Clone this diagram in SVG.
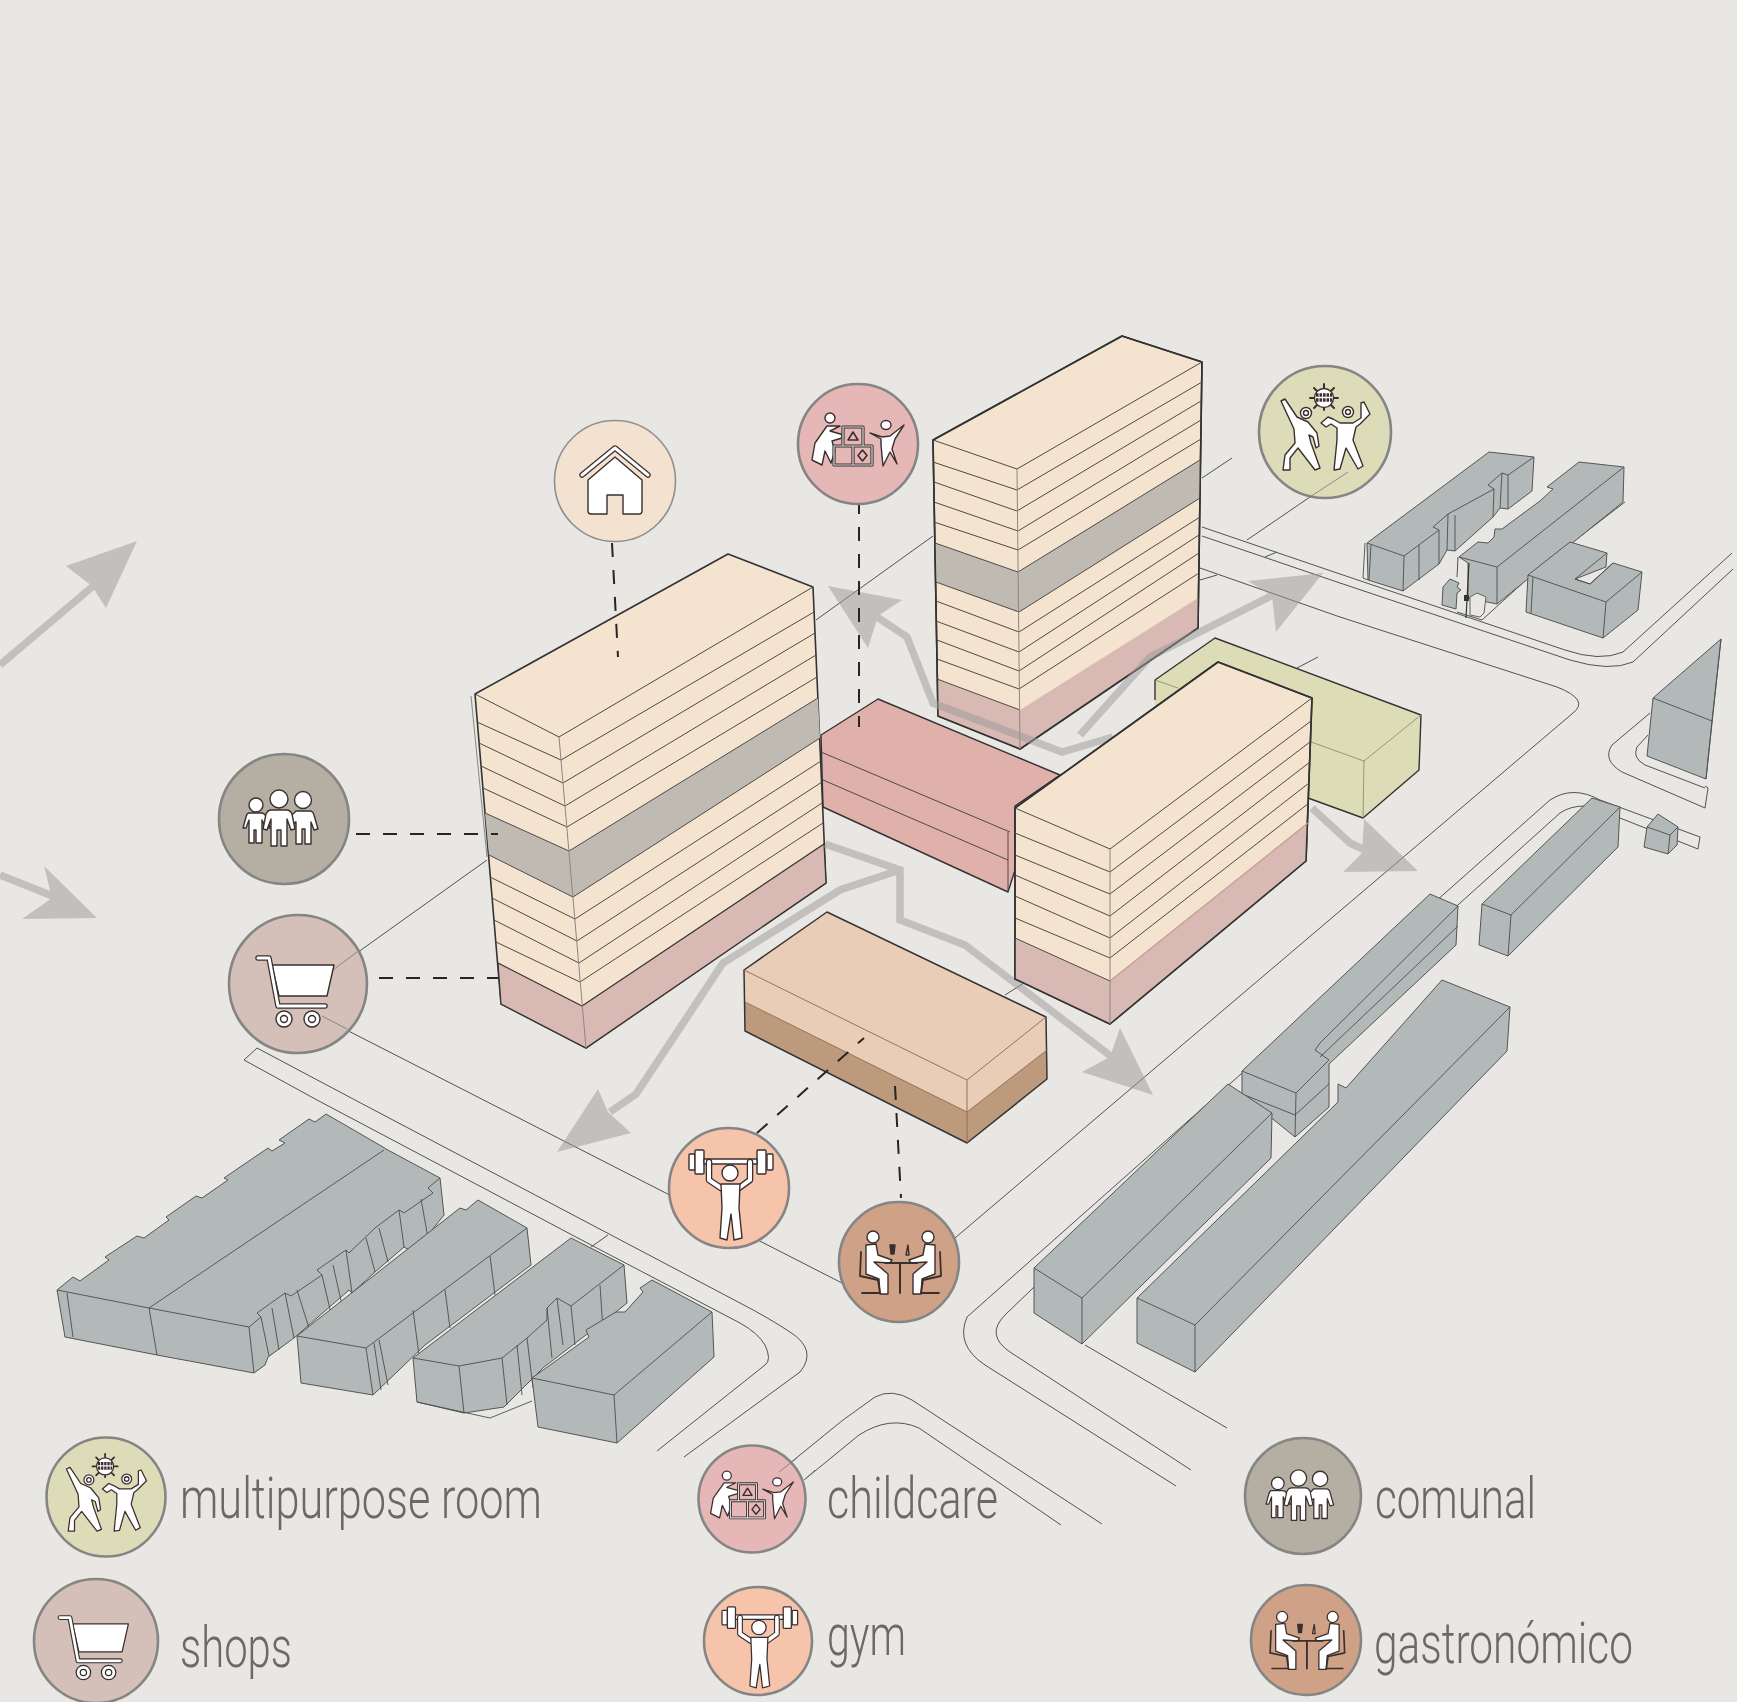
<svg xmlns="http://www.w3.org/2000/svg" xmlns:xlink="http://www.w3.org/1999/xlink" width="1737" height="1702" viewBox="0 0 1737 1702">
<style>
.rd{fill:none;stroke:#525252;stroke-width:1}
.bl{fill:#b2b9b8;stroke:#555;stroke-width:1;stroke-linejoin:round}
.bi{fill:none;stroke:#4a4f4f;stroke-width:.9}
.cr{fill:#f3e3cf;stroke:#333;stroke-width:1.6;stroke-linejoin:round}
.gy{fill:#bfbab2;stroke:none}
.pk{fill:#d9b9b3;stroke:#333;stroke-width:1.2;stroke-linejoin:round}
.fl{fill:none;stroke:#4d4a48;stroke-width:1}
.vt{fill:none;stroke:#8a8784;stroke-width:1}
.dash{fill:none;stroke:#2b2222;stroke-width:2;stroke-dasharray:14 13}
.flow path{fill:none;stroke:#9b9b9b;stroke-width:7.5;stroke-linejoin:miter}
.flow polygon{fill:#9b9b9b}
.ic *{fill:#fff;stroke:#3a2f2f;stroke-width:1.4;stroke-linejoin:round;stroke-linecap:round}
.ic .n{fill:none}
.c1{stroke:#858585;stroke-width:2.6}
.lg{font-family:"Roboto","Liberation Sans",sans-serif;font-weight:300;font-size:57px;fill:#6f6764}
</style>
<defs>
<g id="i-house" class="ic">
<path d="M-33,-6L0,-33L33,-6" style="fill:none;stroke-width:5.5"/>
<path d="M-33,-6L0,-33L33,-6" style="fill:none;stroke:#fff;stroke-width:3"/>
<path d="M0,-24L27,-1V30Q27,33 24,33H8V14H-8V33H-24Q-27,33 -27,30V-1Z"/>
</g>
<g id="i-child" class="ic">
<circle cx="-28" cy="-26" r="5"/>
<path d="M-31,-18L-18,-18L-28,-13L-16,-9.5L-16,-6L-26,-3L-23,7L-27,19L-33,7L-36,21L-46,16L-43,-1Z"/>
<ellipse cx="28" cy="-19" rx="5" ry="4.5"/>
<path d="M12,-11L24,-7L32,-8L46,-19L37,-5L34,5L39,20L32,8L25,22L23,1L23,-5Z"/>
<path d="M-15,-17H5V2H-15ZM-24,2H-5V21H-24ZM-5,2H14V21H-5Z" style="fill:none;stroke-width:3.200"/>
<path d="M-15,-17H5V2H-15ZM-24,2H-5V21H-24ZM-5,2H14V21H-5Z" style="fill:none;stroke:#ddd;stroke-width:1.200"/>
<path d="M-5,-12L0,-4H-10Z" style="fill:none;stroke-width:1.600"/>
<path d="M4.500,6L9,11.500L4.500,17L0,11.500Z" style="fill:none;stroke-width:1.600"/>
</g>
<g id="i-multi" class="ic">
<circle cx="-19" cy="-19" r="5.500"/><circle cx="-19" cy="-19" r="2.500"/>
<circle cx="23" cy="-20" r="5.500"/><circle cx="23" cy="-20" r="2.500"/>
<path d="M-44,-31L-40,-33L-28,-15L-17,-10L-8,1L-6,14L-9,16L-12,5L-16,3L-14,11L-5,36L-10,38L-27,16L-35,26L-35,38L-42,38L-40,23L-30,11L-31,-3Z"/>
<path d="M-4,-9L3,-15L8,-13L15,-9L28,-9L36,-14L36,-29L39,-30L45,-18L35,-8L31,-5L28,8L38,34L33,37L21,16L15,37L9,38L12,8L12,-4L6,-8L1,-5Z"/>
<path d="M-1,-48V-22M-15,-34H13M-11,-44L9,-24M9,-44L-11,-24" style="fill:none;stroke-width:2"/>
<circle cx="-1" cy="-34" r="9.500"/>
<path d="M-9,-37H7M-9,-32H7" style="fill:none;stroke-width:3.600;stroke-dasharray:2.600 .9;stroke-linecap:butt"/>
</g>
<g id="i-com" class="ic">
<circle cx="-28" cy="-14" r="7"/>
<path d="M-35,-6H-23Q-19,-6 -18,-2L-14,9L-18,9L-22,1V24H-28V11H-30V24H-35V1L-38,9L-41,9L-38,-2Q-37,-6 -35,-6Z"/>
<circle cx="19" cy="-19" r="8.500"/>
<path d="M12,-8H26Q29,-8 30,-4L34,10L30,11L27,3V25H21V10H18V25H12V3L8,5L6,-2Z"/>
<circle cx="-5" cy="-20" r="9"/>
<path d="M-13,-9H3Q6,-9 8,-5L11,10L7,11L3,0V27H-3V11H-7V27H-13V0L-17,11L-21,10L-18,-5Q-16,-9 -13,-9Z"/>
</g>
<g id="i-cart" class="ic">
<path d="M-26,-19H36L29,12H-19Z"/>
<path d="M-40,-26H-29L-20,22H27" style="fill:none;stroke-width:5.500"/>
<path d="M-40,-26H-29L-20,22H27" style="fill:none;stroke:#fff;stroke-width:3"/>
<circle cx="-14" cy="35" r="8"/><circle cx="-14" cy="35" r="3.500"/>
<circle cx="14" cy="35" r="8"/><circle cx="14" cy="35" r="3.500"/>
</g>
<g id="i-gym" class="ic">
<rect x="-40" y="-34" width="6" height="16" rx="1"/><rect x="-34" y="-38" width="9" height="24" rx="1"/>
<rect x="38" y="-34" width="6" height="16" rx="1"/><rect x="28" y="-38" width="9" height="24" rx="1"/>
<path d="M-25,-29H28V-24H-25Z"/>
<path d="M-20,-26L-20,-8L-8,0" style="fill:none;stroke-width:6.500"/>
<path d="M21,-26L21,-8L10,0" style="fill:none;stroke-width:6.500"/>
<path d="M-20,-26L-20,-8L-8,0" style="fill:none;stroke:#fff;stroke-width:4"/>
<path d="M21,-26L21,-8L10,0" style="fill:none;stroke:#fff;stroke-width:4"/>
<circle cx="1" cy="-15" r="8"/>
<path d="M-8,-4H11L10,20L13,50L5,52L2,26L-2,52L-9,50L-7,20Z"/>
</g>
<g id="i-gas" class="ic">
<circle cx="-26" cy="-25" r="6"/><circle cx="29" cy="-25" r="6"/>
<path d="M-33,-17L-23,-18L-21,-7L-7,-2L-9,1L-25,0L-11,12V32H-19L-20,17L-33,12Z"/>
<path d="M36,-17L26,-18L24,-7L10,-2L12,1L28,0L14,12V32H22L23,17L36,12Z"/>
<path d="M-38,-10L-39,14L-21,18L-19,31H-37" style="fill:none;stroke-width:1.800"/>
<path d="M41,-10L42,14L24,18L22,31H40" style="fill:none;stroke-width:1.800"/>
<path d="M-14,1H18M1,1V31" style="fill:none;stroke-width:2"/>
<path d="M-9,-17H-4L-5,-8H-8Z" style="fill:#3a2f2f"/><path d="M9,-17L10,-7H7Z" style="fill:none"/>
</g>
</defs>
<rect width="1737" height="1702" fill="#e8e7e3"/>
<g id="roads">
<path class="rd" d="M244,1060L257,1048L355,1100L740,1303Q769,1318 790,1332Q818,1350 800,1372L684,1457"/>
<path class="rd" d="M244,1060L317,1100L593,1246L740,1323Q758,1333 765,1345Q772,1360 765,1365L657,1451"/>
<path class="rd" d="M591,1247L608,1235"/>
<path class="rd" d="M321,1017L842,1283"/>
<path class="rd" d="M333,970L487,860"/>
<path class="rd" d="M816,620L933,536"/>
<path class="rd" d="M1202,478L1232,458"/>
<path class="rd" d="M1247,540L1310,497"/>
<path class="rd" d="M1265,557L1277,552"/>
<path class="rd" d="M1200,580L1217,575"/>
<path class="rd" d="M1297,668L1318,657"/>
<path class="rd" d="M1005,995L1024,983"/>
<path class="rd" d="M1202,527L1340,574L1565,650Q1600,662 1623,652L1732,553"/>
<path class="rd" d="M1202,536L1340,583L1570,660Q1610,672 1633,662L1733,569"/>
<path class="rd" d="M1200,568L1340,617L1557,687Q1590,700 1573,713L955,1238"/>
<path class="rd" d="M967,1317L1550,800Q1573,785 1600,800L1700,837L1698,849L1620,818"/>
<path class="rd" d="M1033,1288L1005,1315Q985,1335 1010,1352L1191,1470"/>
<path class="rd" d="M1033,1288L1560,813Q1570,806 1585,806"/>
<path class="rd" d="M967,1317Q955,1345 985,1365L1176,1486"/>
<path class="rd" d="M1085,1345L1227,1428"/>
<path class="rd" d="M1650,713L1612,745Q1602,760 1622,772L1705,808L1708,788L1705,786"/>
<path class="rd" d="M1648,735L1637,747Q1632,758 1645,765L1705,788"/>
<path class="rd" d="M843,1420L875,1397Q892,1388 912,1400L1102,1524"/>
<path class="rd" d="M804,1480L859,1435Q890,1415 919,1428L1061,1525"/>
<path class="rd" d="M779,1472L843,1420"/>
<path class="rd" d="M1625,502L1573,542M1526,580L1482,620L1457,612M1458,557L1457,577"/>
</g>
<g id="buildings-context">
<g id="block-nw">
<polygon class="bl" points="57,1290 73,1277 80,1281 109,1260 105,1257 137,1236 144,1238 169,1220 166,1217 196,1196 202,1198 228,1180 224,1178 268,1148 272,1151 285,1143 279,1140 309,1119 315,1122 326,1114 383,1147 386,1149 440,1178 444,1215 432,1230 435,1233 411,1251 404,1247 375,1272 352,1293 349,1290 294,1338 268,1357 265,1365 254,1373 157,1355 65,1337"/>
<path class="bi" d="M57,1290L149,1308L249,1327L261,1317L257,1313L285,1293L291,1296L322,1275L317,1270L346,1250L349,1253L375,1228L399,1210L404,1213L433,1193L428,1188L440,1178"/>
<path class="bi" d="M149,1308L384,1150M149,1308L157,1355M67,1293L73,1337M249,1327L254,1373M261,1317L269,1356M272,1308L279,1350M285,1293L294,1338M297,1290L309,1328M322,1275L332,1318M333,1265L342,1305M346,1250L352,1293M366,1238L375,1272M379,1228L388,1262M399,1210L404,1247M421,1199L428,1238"/>
</g>
<g id="block-n2">
<polygon class="bl" points="297,1336 317,1320 321,1317 460,1208 466,1210 478,1200 527,1228 531,1265 425,1345 373,1395 301,1383"/>
<path class="bi" d="M297,1336L366,1348L527,1228M366,1348L373,1395M374,1343L381,1390M379,1340L388,1385M413,1310L419,1355M445,1290L450,1328M490,1256L495,1295"/>
</g>
<g id="block-n3">
<polygon class="bl" points="413,1358 571,1238 624,1265 627,1303 616,1312 544,1367 504,1407 464,1413 417,1402"/>
<path class="bi" d="M413,1358L459,1366L502,1358L527,1338L547,1320L547,1308L557,1298L571,1306L624,1265M459,1366L464,1413M502,1358L507,1405M517,1345L522,1395M527,1338L533,1388M547,1308L552,1358M557,1298L563,1345M571,1306L575,1345M600,1285L603,1330M417,1402L490,1418L532,1401"/>
</g>
<g id="block-n4">
<polygon class="bl" points="532,1378 589,1337 586,1330 616,1312 625,1312 643,1292 640,1288 652,1280 712,1312 714,1357 617,1443 538,1427"/>
<path class="bi" d="M532,1378L614,1395L712,1312M614,1395L617,1443"/>
</g>
<g id="block-ne1">
<polygon class="bl" points="1367,543 1489,452 1534,457 1532,491 1508,509 1500,508 1493,517 1455,551 1447,550 1439,564 1403,591 1368,580"/>
<path class="bi" d="M1367,543L1404,556L1439,530L1433,527L1448,514L1494,489L1488,485L1502,473L1508,475L1534,457M1404,556L1403,591M1419,545L1419,580M1439,530L1439,564M1448,514L1447,550M1455,515L1455,551M1494,489L1493,517M1502,473L1500,508M1508,475L1508,509M1371,545L1369,580M1365,543L1363,578L1368,580"/>
</g>
<g id="block-ne2">
<polygon class="bl" points="1459,557 1478,542 1488,543 1494,537 1495,529 1502,529 1540,501 1553,489 1547,487 1579,462 1624,467 1623,502 1497,604 1468,598 1468,563"/>
<path class="bi" d="M1459,557L1497,567L1624,467M1497,567L1497,604"/>
</g>
<g id="block-ne3">
<polygon class="bl" points="1528,575 1570,542 1607,553 1606,567 1575,579 1590,584 1613,563 1642,572 1638,610 1603,638 1526,612"/>
<path class="bi" d="M1528,575L1606,602L1642,572M1606,602L1603,638M1533,577L1531,613M1607,553L1575,579L1590,584L1613,563"/>
</g>
<g id="block-ne4">
<polygon class="bl" points="1443,587 1450,579 1459,583 1457,587 1461,590 1457,593 1456,609 1442,605"/>
<polygon points="1470,597 1477,593 1486,597 1484,613 1480,617 1470,615" fill="#e8e7e3" stroke="#555" stroke-width=".9"/>
<path d="M1469,563L1466,618" stroke="#333" stroke-width="1.200" fill="none"/>
<rect x="1464" y="595" width="5" height="6" fill="#333"/>
</g>
<g id="block-corner">
<polygon class="bl" points="1653,698 1721,639 1706,779 1647,756"/>
<path class="bi" d="M1653,698L1712,721L1721,639M1712,721L1706,779"/>
</g>
<g id="block-long1">
<polygon class="bl" points="1482,904 1592,798 1620,807 1618,847 1508,956 1479,945"/>
<path class="bi" d="M1482,904L1511,915L1620,807M1511,915L1508,956"/>
</g>
<g id="block-house">
<polygon class="bl" points="1647,827 1658,814 1678,827 1677,845 1668,854 1644,847"/>
<path class="bi" d="M1647,827L1670,835L1678,827M1670,835L1668,854"/>
</g>
<g id="block-mid">
<polygon class="bl" points="1242,1071 1430,894 1458,906 1456,945 1329,1064 1329,1107 1295,1137 1242,1094"/>
<path class="bi" d="M1242,1071L1296,1093L1329,1060L1315,1050L1320,1043L1458,906M1320,1057L1458,926M1296,1093L1295,1137M1295,1115L1329,1084M1242,1094L1295,1115"/>
</g>
<g id="block-left-long">
<polygon class="bl" points="1034,1268 1228,1084 1272,1113 1271,1158 1082,1344 1034,1313"/>
<path class="bi" d="M1034,1268L1082,1298L1272,1113M1082,1298L1082,1344"/>
</g>
<g id="block-right-long">
<polygon class="bl" points="1137,1298 1338,1102 1338,1084 1346,1088 1442,980 1510,1007 1507,1051 1195,1372 1137,1343"/>
<path class="bi" d="M1137,1298L1195,1325L1510,1007M1195,1325L1195,1372"/>
</g>
</g>
<g id="block-pink">
<polygon points="821,735 878,699 1060,775 1015,806 1015,870 1008,892 823,807" fill="#e0b0aa" stroke="#333" stroke-width="1.400" stroke-linejoin="round"/>
<path class="fl" d="M821,752L1010,832M823,780L1008,860M1008,832V892"/>
</g>
<g id="block-gym">
<polygon points="744,970 827,912 1046,1017 1047,1050 967,1112 745,1002" fill="#eacdb6"/>
<polygon points="745,1002 967,1112 1047,1050 1047,1079 967,1143 745,1031" fill="#bc9a7b"/>
<path fill="none" stroke="#333" stroke-width="1.500" stroke-linejoin="round" d="M744,970L827,912L1046,1017L1047,1079L967,1143L745,1031Z"/>
<path fill="none" stroke="#8a6a55" stroke-width=".9" d="M744,970L967,1080L1046,1017M967,1080V1143M745,1002L967,1112L1047,1050"/>
</g>
<g id="tower-1">
<polygon class="cr" points="475,694 728,554 813,587 826,883 586,1048 501,1004"/>
<polygon class="gy" points="485,813 569,851 818,698 820,738 573,897 489,855"/>
<polygon class="pk" points="498,963 582,1006 824,844 826,883 586,1048 501,1004"/>
<path class="fl" d="M475,694L559,737L813,587M477,722L561,760L814,612M479,743L563,783L815,633M481,766L565,806L816,655M483,788L567,827L817,677M485,813L569,851L818,698M489,855L573,897L820,738M490,877L575,919L821,761M492,898L577,941L822,782M494,920L579,963L822,803M496,942L580,982L823,823"/>
<path class="vt" d="M559,737L586,1048M471,696L487,857"/>
</g>
<g id="tower-2">
<polygon class="cr" points="933,440 1122,336 1202,362 1198,628 1020,749 938,716"/>
<polygon class="gy" points="935,543 1018,572 1200,460 1200,498 1019,612 936,582"/>
<polygon points="937,679 1020,710 1198,598 1198,628 1020,749 938,716" fill="#d9b9b3"/>
<path fill="none" stroke="#333" stroke-width="1.600" stroke-linejoin="round" d="M933,440L1122,336L1202,362L1198,628L1020,749L938,716Z"/>
<path class="fl" d="M933,440L1017,469L1202,362M933,462L1017,490L1202,382M934,482L1017,511L1201,401M934,502L1018,531L1201,420M934,522L1018,550L1201,439M935,543L1018,572L1200,460M936,582L1019,612L1200,498M936,601L1019,632L1200,517M936,621L1019,652L1199,535M937,640L1019,671L1199,553M937,659L1019,689L1199,573M937,679L1020,710"/>
<path class="vt" d="M1017,469L1020,749"/>
</g>
<g id="flows" class="flow" opacity=".5">
<path d="M0,665L105,576"/><polygon points="137,541 66,566 92,586 106,608"/>
<path d="M0,875L55,897"/><polygon points="97,918 44,866 52,898 22,919"/>
<path d="M1080,735L1150,657L1273,595"/><polygon points="1323,573 1248,581 1272,596 1276,632"/>
<path d="M1113,737L1062,752L933,703L907,637L877,617"/><polygon points="828,586 902,600 878,616 868,648"/>
<path d="M825,844L900,870L900,920L965,945L1112,1057"/><polygon points="1153,1095 1082,1072 1110,1057 1120,1028"/>
<path d="M900,870L840,890L723,963L636,1094L610,1112"/><polygon points="557,1152 631,1133 608,1112 598,1089"/>
<path d="M1312,808L1350,843L1365,850"/><polygon points="1418,871 1364,819 1362,853 1343,872"/>
</g>
<g id="block-green">
<polygon points="1155,680 1215,638 1421,715 1419,770 1363,818 1308,798 1308,740 1155,720" fill="#dcdcb6"/>
<path fill="none" stroke="#333" stroke-width="1.400" stroke-linejoin="round" d="M1155,700V680L1215,638L1421,715L1419,770L1363,818L1308,798"/>
<path fill="none" stroke="#8f8f70" stroke-width=".9" d="M1155,680L1178,688M1311,742L1364,761L1421,715M1364,761L1363,818"/>
</g>
<g id="tower-3">
<polygon class="cr" points="1015,808 1218,662 1312,698 1306,861 1110,1024 1015,979"/>
<polygon points="1015,938 1110,981 1308,823 1306,861 1110,1024 1015,979" fill="#d9b9b3"/>
<path fill="none" stroke="#333" stroke-width="1.600" stroke-linejoin="round" d="M1015,808L1218,662L1312,698L1306,861L1110,1024L1015,979Z"/>
<path class="fl" d="M1015,808L1110,849L1312,698M1015,833L1110,872L1311,721M1015,855L1110,894L1310,742M1015,875L1110,916L1310,762M1015,896L1110,938L1309,783M1015,918L1110,958L1309,803M1015,938L1110,981"/>
<path fill="none" stroke="#c49a93" stroke-width="1.200" d="M1110,981L1308,823"/>
<path class="vt" d="M1110,849V1024"/>
</g>
<g id="connectors">
<path class="dash" d="M612,543L618,657"/>
<path class="dash" d="M859,500V727"/>
<path class="dash" d="M356,834H498"/>
<path class="dash" d="M379,978H498"/>
<path class="dash" d="M757,1133L864,1038"/>
<path class="dash" d="M895,1086L901,1198"/>
</g>
<g id="node-house"><circle cx="615" cy="481" r="60.500" fill="#f4e2d1" stroke="#909090" stroke-width="1.600"/><use href="#i-house" transform="translate(615,481)"/></g>
<g id="node-childcare"><circle class="c1" cx="858" cy="444" r="60" fill="#e5b8b7"/><use href="#i-child" transform="translate(858,444)"/></g>
<g id="node-multipurpose"><circle class="c1" cx="1325" cy="432" r="66" fill="#dcdcb8"/><path d="M1348,472L1310,497" stroke="#777" stroke-width=".8" fill="none"/><use href="#i-multi" transform="translate(1325,432)"/></g>
<g id="node-comunal"><circle class="c1" cx="284" cy="819" r="65" fill="#b5aea3"/><use href="#i-com" transform="translate(284,819)"/></g>
<g id="node-shops"><circle class="c1" cx="298" cy="984" r="69" fill="#d4bfb9"/><path d="M333,970L357,952M322,1016L347,1029" stroke="#777" stroke-width=".8" fill="none"/><use href="#i-cart" transform="translate(298,984)"/></g>
<g id="node-gym"><circle class="c1" cx="729" cy="1188" r="60" fill="#f5c4aa"/><use href="#i-gym" transform="translate(729,1188)"/></g>
<g id="node-gastro"><circle class="c1" cx="899" cy="1262" r="60" fill="#cfa186"/><use href="#i-gas" transform="translate(899,1262)"/></g>
<g id="legend">
<g id="lg-multipurpose"><circle class="c1" cx="106" cy="1497" r="59.500" fill="#dcdcb8"/><use href="#i-multi" transform="translate(106,1497) scale(.9)"/><text class="lg" x="180" y="1518" textLength="362" lengthAdjust="spacingAndGlyphs">multipurpose room</text></g>
<g id="lg-shops"><circle class="c1" cx="96" cy="1641" r="62" fill="#d4bfb9"/><use href="#i-cart" transform="translate(96,1641) scale(.9)"/><text class="lg" x="180" y="1667" textLength="112" lengthAdjust="spacingAndGlyphs">shops</text></g>
<g id="lg-childcare"><circle class="c1" cx="752" cy="1499" r="53.500" fill="#e5b8b7"/><path d="M779,1472L797,1458M804,1480L815,1470" stroke="#777" stroke-width=".8" fill="none"/><use href="#i-child" transform="translate(752,1499) scale(.9)"/><text class="lg" x="827" y="1518" textLength="171" lengthAdjust="spacingAndGlyphs">childcare</text></g>
<g id="lg-comunal"><circle class="c1" cx="1303" cy="1496" r="58" fill="#b5aea3"/><use href="#i-com" transform="translate(1303,1496) scale(.9)"/><text class="lg" x="1375" y="1518" textLength="161" lengthAdjust="spacingAndGlyphs">comunal</text></g>
<g id="lg-gym"><circle class="c1" cx="758" cy="1641" r="54" fill="#f5c4aa"/><use href="#i-gym" transform="translate(758,1641) scale(.9)"/><text class="lg" x="827" y="1655" textLength="79" lengthAdjust="spacingAndGlyphs">gym</text></g>
<g id="lg-gastro"><circle class="c1" cx="1306" cy="1640" r="55" fill="#cfa186"/><use href="#i-gas" transform="translate(1306,1640) scale(.92)"/><text class="lg" x="1374" y="1663" textLength="259" lengthAdjust="spacingAndGlyphs">gastronómico</text></g>
</g>
</svg>
